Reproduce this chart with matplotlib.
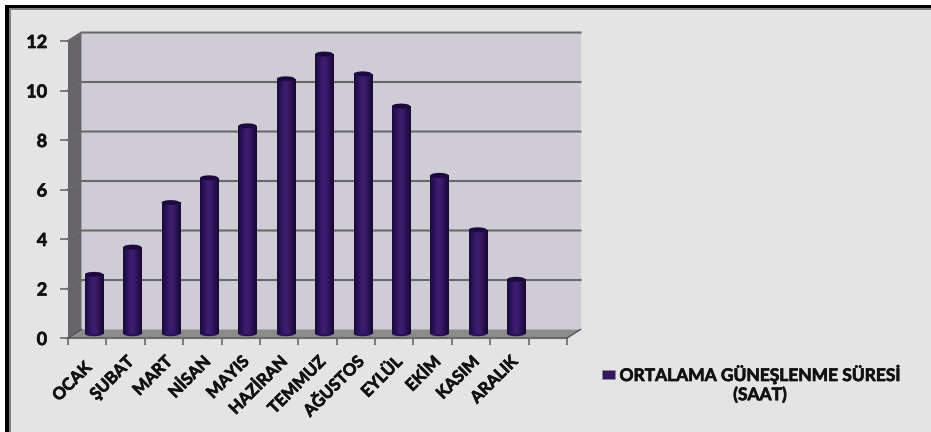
import numpy as np
import matplotlib
matplotlib.use('Agg')
import matplotlib.pyplot as plt
import matplotlib.patheffects as pe
from matplotlib.colors import LinearSegmentedColormap
from matplotlib.patches import Ellipse, Polygon, Rectangle
from matplotlib.transforms import ScaledTranslation

MONTHS = ['OCAK', 'ŞUBAT', 'MART', 'NİSAN', 'MAYIS', 'HAZİRAN', 'TEMMUZ', 'AĞUSTOS', 'EYLÜL', 'EKİM', 'KASIM', 'ARALIK']
HOURS = [2.4, 3.5, 5.3, 6.3, 8.4, 10.3, 11.3, 10.5, 9.2, 6.4, 4.2, 2.2]
Y_TICKS = [0, 2, 4, 6, 8, 10, 12]
LEGEND_LINE_1 = 'ORTALAMA GÜNEŞLENME SÜRESİ'
LEGEND_LINE_2 = '(SAAT)'

W, H = 931, 432
SLOTS = 13  # one empty slot stays after ARALIK
DX, DY = 0.352, 0.343  # depth of the fake 3d box, in data units
BAR_W = 0.47

BG = '#e4e4e4'
WALL = '#cfccd5'
SIDE = '#666468'
FLOOR = '#8b8b8b'
GRID = '#696969'
INK = '#111111'

plt.rcParams['font.family'] = ['Lato', 'DejaVu Sans']
plt.rcParams['font.weight'] = 'bold'

bar_cmap = LinearSegmentedColormap.from_list('cyl', ['#1c0a3e', '#2a1258', '#3d1d70', '#3a1a6b', '#28104f', '#170834'])
# Lato bold is a bit thin at this size, thicken it
heavy = [pe.withStroke(linewidth=0.5, foreground=INK)]


def px_x(x):
    return x / W


def px_y(y):
    return 1 - y / H


def draw_frame(fig):
    # page background with the heavy top and left border, kept behind the axes
    fig.patch.set_facecolor('white')
    fig.add_artist(Rectangle((px_x(5), 0), 1, px_y(5), transform=fig.transFigure, color='black', lw=0, zorder=-3))
    fig.add_artist(Rectangle((px_x(9), 0), 1, px_y(8), transform=fig.transFigure, color='#808080', lw=0, zorder=-2))
    fig.add_artist(Rectangle((px_x(11), 0), 1, px_y(10), transform=fig.transFigure, color=BG, lw=0, zorder=-1))


def draw_box(ax):
    ax.add_patch(Polygon([(DX, DY), (SLOTS + DX, DY), (SLOTS + DX, 12 + DY), (DX, 12 + DY)], color=WALL, lw=0, zorder=1, clip_on=False))
    ax.add_patch(Polygon([(0, 0), (0, 12), (DX, 12 + DY), (DX, DY)], color=SIDE, lw=0, zorder=1, clip_on=False))
    ax.add_patch(Polygon([(0, 0), (SLOTS, 0), (SLOTS + DX, DY), (DX, DY)], color=FLOOR, lw=0, zorder=1, clip_on=False))
    for v in Y_TICKS[1:]:
        ax.plot([0, DX, SLOTS + DX], [v, v + DY, v + DY], color=GRID, lw=1.5, clip_on=False, zorder=2)
    ax.plot([0, SLOTS], [0, 0], color=GRID, lw=1.5, clip_on=False, zorder=2)
    ax.plot([0, DX], [0, DY], color='#555555', lw=1, clip_on=False, zorder=2)
    ax.plot([SLOTS, SLOTS + DX], [0, DY], color='#555555', lw=1, clip_on=False, zorder=2)


def draw_bars(ax):
    grad = np.linspace(0, 1, 32).reshape(1, -1)
    cap_h = 0.2
    for i, v in enumerate(HOURS):
        x = i + 0.5 + DX / 2
        base = DY / 2
        ax.add_patch(Ellipse((x, base), BAR_W, cap_h, color='#2a1258', lw=0, zorder=3))
        ax.imshow(grad, cmap=bar_cmap, aspect='auto', zorder=4, interpolation='bilinear',
                  extent=[x - BAR_W / 2, x + BAR_W / 2, base, base + v])
        ax.add_patch(Ellipse((x, base + v), BAR_W, cap_h, color='#1c0a3e', lw=0, zorder=5))


fig = plt.figure(figsize=(W / 100, H / 100), dpi=100)
draw_frame(fig)

ax = fig.add_axes([px_x(68), px_y(338), (567 - 68) / W, (338 - 41) / H])
ax.patch.set_alpha(0)
for s in ax.spines.values():
    s.set_visible(False)

draw_box(ax)
draw_bars(ax)

ax.set_xlim(0, SLOTS)
ax.set_ylim(0, 12)
ax.set_yticks(Y_TICKS)
ax.set_yticklabels(Y_TICKS, fontsize=13, color=INK, fontweight='bold', path_effects=heavy)
ax.tick_params(axis='y', length=6, width=1.2, color=GRID, pad=9)

# ticks sit on the slot edges, labels in the slot middle
ax.set_xticks(range(SLOTS + 1))
ax.set_xticklabels([])
ax.tick_params(axis='x', which='major', length=5, width=1.2, color=GRID)
ax.set_xticks([i + 0.5 for i in range(len(MONTHS))], minor=True)
ax.set_xticklabels(MONTHS, minor=True, rotation=45, ha='right', va='top', rotation_mode='anchor',
                   fontsize=12, color=INK, fontweight='bold', path_effects=heavy)
ax.tick_params(axis='x', which='minor', length=0, pad=11)

# OCAK sits a little lower than the other month labels
first = ax.get_xticklabels(minor=True)[0]
first.set_transform(first.get_transform() + ScaledTranslation(-4 / 100, -6 / 100, fig.dpi_scale_trans))

# legend, drawn by hand to keep the two centred lines
fig.add_artist(Rectangle((px_x(602), px_y(379)), 13 / W, 9 / H, transform=fig.transFigure,
                         facecolor='#36175f', edgecolor='#8a8a9a', lw=0.5))
fig.text(px_x(760), px_y(374.5), LEGEND_LINE_1, ha='center', va='center', fontsize=12.5, color=INK,
         fontweight='bold', path_effects=heavy)
fig.text(px_x(760), px_y(395), LEGEND_LINE_2, ha='center', va='center', fontsize=12.5, color=INK,
         fontweight='bold', path_effects=heavy)

fig.savefig('out.png', dpi=100, facecolor=fig.get_facecolor())
